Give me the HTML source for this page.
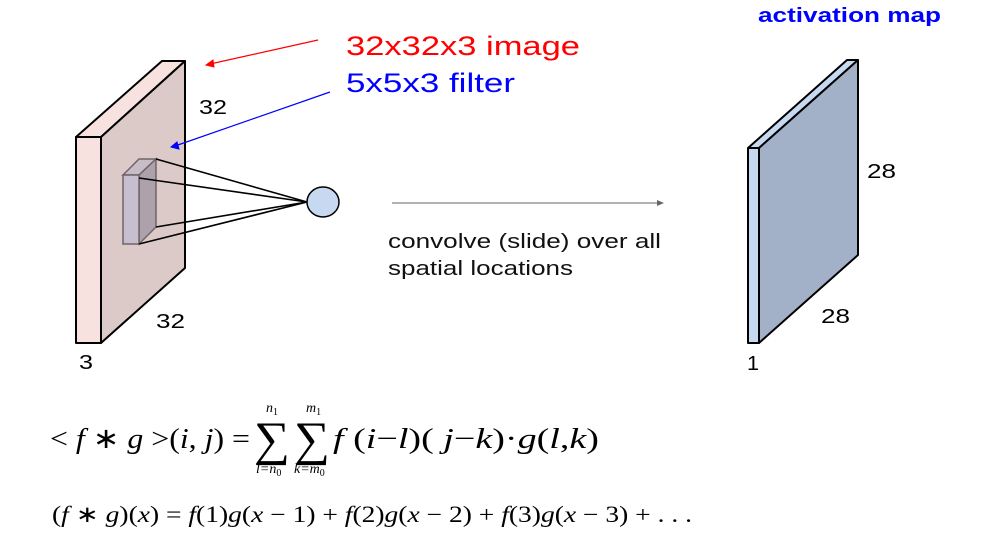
<!DOCTYPE html>
<html><head><meta charset="utf-8"><style>
body{margin:0;background:#fff;width:996px;height:536px;overflow:hidden}
svg{display:block}
.s{font-family:"Liberation Sans",sans-serif}
.m{font-family:"Liberation Serif",serif}
</style></head><body>
<svg width="996" height="536" viewBox="0 0 996 536">
<g stroke="#000" stroke-width="2" stroke-linejoin="round">
<polygon points="76,137 162,61 185,61 101,137" fill="#f7e2e0"/>
<polygon points="76,137 101,137 101,343 76,343" fill="#f7e2e0"/>
<polygon points="101,137 185,61 185,268 101,343" fill="#dccac8"/>
</g>
<g stroke="#6f6466" stroke-width="1.5">
<polygon points="123,175 139,159 156,159 139,175" fill="#c8bcc8"/>
<polygon points="139,175 156,159 156,227 139,244" fill="#ada2ac"/>
<rect x="123" y="175" width="16" height="69" fill="#c7bfcf"/>
</g>
<g stroke="#000" stroke-width="1.6">
<line x1="156" y1="159" x2="307" y2="202"/>
<line x1="139" y1="178" x2="307" y2="202"/>
<line x1="156" y1="227" x2="307" y2="202"/>
<line x1="139" y1="244" x2="307" y2="202"/>
</g>
<ellipse cx="323" cy="202" rx="16" ry="15" fill="#c6d9f1" stroke="#000" stroke-width="1.5"/>
<g stroke="#f00" fill="#f00"><line x1="318" y1="40" x2="210" y2="64" stroke-width="1.2"/><polygon points="206,65 213,60 214,67"/></g>
<g stroke="#00f" fill="#00f"><line x1="330" y1="92" x2="175" y2="146" stroke-width="1.2"/><polygon points="171,147 177,142 179,149"/></g>
<text class="s" x="346" y="55" font-size="27" fill="#f00" textLength="234" lengthAdjust="spacingAndGlyphs">32x32x3 image</text>
<text class="s" x="346" y="92" font-size="27" fill="#00f" textLength="169" lengthAdjust="spacingAndGlyphs">5x5x3 filter</text>
<text class="s" x="199" y="114" font-size="20" textLength="28" lengthAdjust="spacingAndGlyphs">32</text>
<text class="s" x="156" y="328" font-size="20" textLength="29" lengthAdjust="spacingAndGlyphs">32</text>
<text class="s" x="79" y="369" font-size="20" textLength="14" lengthAdjust="spacingAndGlyphs">3</text>
<g><line x1="392" y1="203" x2="660" y2="203" stroke="#666" stroke-width="1"/><polygon points="664,203 657,200 657,206" fill="#666"/></g>
<text class="s" font-size="20" fill="#111"><tspan x="388" y="248" textLength="273" lengthAdjust="spacingAndGlyphs">convolve (slide) over all</tspan><tspan x="388" y="275" textLength="185" lengthAdjust="spacingAndGlyphs">spatial locations</tspan></text>
<text class="s" x="758" y="22" font-size="20" font-weight="bold" fill="#00f" textLength="183" lengthAdjust="spacingAndGlyphs">activation map</text>
<g stroke="#000" stroke-width="2" stroke-linejoin="round">
<polygon points="748,148 847,60 858,60 759,148" fill="#c6d9f1"/>
<rect x="748" y="148" width="11" height="195" fill="#c6d9f1"/>
<polygon points="759,148 858,60 858,255 759,343" fill="#a2b0c8"/>
</g>
<text class="s" x="867" y="178" font-size="20" textLength="29" lengthAdjust="spacingAndGlyphs">28</text>
<text class="s" x="821" y="323" font-size="20" textLength="29" lengthAdjust="spacingAndGlyphs">28</text>
<text class="s" x="747" y="370" font-size="20" textLength="12" lengthAdjust="spacingAndGlyphs">1</text>
<g class="m" fill="#000">
<text x="50" y="448" font-size="29" textLength="200" lengthAdjust="spacingAndGlyphs">&lt; <tspan font-style="italic">f</tspan> ∗ <tspan font-style="italic">g</tspan> &gt;(<tspan font-style="italic">i</tspan>, <tspan font-style="italic">j</tspan>) =</text>
<text x="254" y="455" font-size="48" textLength="36" lengthAdjust="spacingAndGlyphs">∑</text>
<text x="294" y="455" font-size="48" textLength="36" lengthAdjust="spacingAndGlyphs">∑</text>
<text x="266" y="412" font-size="14" font-style="italic">n<tspan font-size="10" font-style="normal" dy="3">1</tspan></text>
<text x="306" y="412" font-size="14" font-style="italic">m<tspan font-size="10" font-style="normal" dy="3">1</tspan></text>
<text x="256" y="473" font-size="14" font-style="italic">l=n<tspan font-size="10" font-style="normal" dy="3">0</tspan></text>
<text x="294" y="473" font-size="14" font-style="italic">k=m<tspan font-size="10" font-style="normal" dy="3">0</tspan></text>
<text x="333" y="448" font-size="29" textLength="266" lengthAdjust="spacingAndGlyphs"><tspan font-style="italic">f</tspan> (<tspan font-style="italic">i</tspan>−<tspan font-style="italic">l</tspan>)( <tspan font-style="italic">j</tspan>−<tspan font-style="italic">k</tspan>)·<tspan font-style="italic">g</tspan>(<tspan font-style="italic">l</tspan>,<tspan font-style="italic">k</tspan>)</text>
</g>
<text class="m" x="52" y="522" font-size="23" textLength="640" lengthAdjust="spacingAndGlyphs">(<tspan font-style="italic">f</tspan> ∗ <tspan font-style="italic">g</tspan>)(<tspan font-style="italic">x</tspan>) = <tspan font-style="italic">f</tspan>(1)<tspan font-style="italic">g</tspan>(<tspan font-style="italic">x</tspan> − 1) + <tspan font-style="italic">f</tspan>(2)<tspan font-style="italic">g</tspan>(<tspan font-style="italic">x</tspan> − 2) + <tspan font-style="italic">f</tspan>(3)<tspan font-style="italic">g</tspan>(<tspan font-style="italic">x</tspan> − 3) + . . .</text>
</svg>
</body></html>
